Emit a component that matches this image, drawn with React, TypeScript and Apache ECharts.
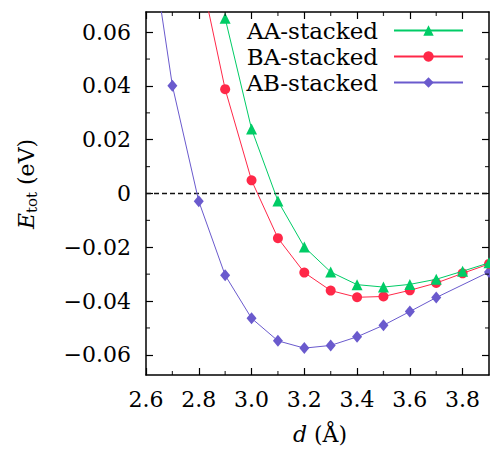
import React, { useEffect, useRef } from "react";
import * as echarts from "echarts";

// ---- data ----
const aaX = [2.9, 3.0, 3.1, 3.2, 3.3, 3.4, 3.5, 3.6, 3.7, 3.8, 3.9];
const aaY = [0.0652, 0.024, -0.0028, -0.0199, -0.0292, -0.0339, -0.0348, -0.0338, -0.0319, -0.0289, -0.0258];

const baX = [2.8, 2.9, 3.0, 3.1, 3.2, 3.3, 3.4, 3.5, 3.6, 3.7, 3.8, 3.9];
const baY = [0.085, 0.0388, 0.0049, -0.0166, -0.0294, -0.0361, -0.0386, -0.0383, -0.036, -0.0333, -0.0297, -0.0262];

const abX = [2.6, 2.7, 2.8, 2.9, 3.0, 3.1, 3.2, 3.3, 3.4, 3.5, 3.6, 3.7, 3.9];
const abY = [0.106, 0.0401, -0.0029, -0.0304, -0.0464, -0.0548, -0.0575, -0.0565, -0.0533, -0.049, -0.0439, -0.0387, -0.0292];

const seriesNames = ["AA-stacked", "BA-stacked", "AB-stacked"];
const xTickLabels = [2.6, 2.8, 3.0, 3.2, 3.4, 3.6, 3.8];
const xMinorTicks = [2.7, 2.9, 3.1, 3.3, 3.5, 3.7];
const yTickLabels = [-0.06, -0.04, -0.02, 0, 0.02, 0.04, 0.06];
const yMinorTicks = [-0.05, -0.03, -0.01, 0.01, 0.03, 0.05];

const X_MIN = 2.6;
const X_MAX = 3.9;
const Y_MIN = -0.0675;
const Y_MAX = 0.0675;

const FONT = '"DejaVu Serif"';
const FS = 22;
const COLORS = ["#00cc66", "#ff2848", "#6a5acd"];

const pairs = (xs: number[], ys: number[]) => xs.map((x, i) => [x, ys[i]]);

function makeAxis(kind: "x" | "y", position: string, labels: boolean) {
  const isX = kind === "x";
  const ticks = isX ? xTickLabels : yTickLabels;
  return {
    type: "value",
    position,
    min: isX ? X_MIN : Y_MIN,
    max: isX ? X_MAX : Y_MAX,
    scale: false,
    boundaryGap: [0, 0],
    axisLine: { show: true, onZero: false, lineStyle: { color: "#000", width: 1.5 } },
    axisTick: {
      show: true,
      inside: true,
      length: 7,
      customValues: ticks,
      lineStyle: { color: "#000", width: 1.2 },
    },
    axisLabel: labels
      ? {
          show: true,
          customValues: ticks,
          fontFamily: FONT,
          fontSize: FS,
          color: "#000",
          margin: isX ? 13 : 15,
          formatter: (v: number) =>
            isX
              ? v.toFixed(1)
              : Math.abs(v) < 1e-9
              ? "0"
              : (v < 0 ? "\u2212" : "") + Math.abs(v).toFixed(2),
        }
      : { show: false },
    splitLine: { show: false },
    minorTick: { show: false },
  };
}

export default function App() {
  const ref = useRef<HTMLDivElement>(null);

  useEffect(() => {
    if (!ref.current) return;
    const chart = echarts.init(ref.current, null, { renderer: "svg" });

    const xAxes = [
      {
        ...makeAxis("x", "bottom", true),
        name: "{i|d} (Å)",
        nameLocation: "middle",
        nameGap: 48,
        nameTextStyle: {
          fontFamily: FONT,
          fontSize: FS,
          color: "#000",
          padding: [0, 0, 0, 5],
          rich: {
            i: { fontFamily: FONT, fontSize: FS, fontStyle: "italic", color: "#000" },
          },
        },
      },
      makeAxis("x", "top", false),
    ];
    const yAxes = [
      {
        ...makeAxis("y", "left", true),
        name: "{e|E}{s|tot} (eV)",
        nameLocation: "middle",
        nameRotate: 90,
        nameGap: 107,
        nameTextStyle: {
          fontFamily: FONT,
          fontSize: FS,
          color: "#000",
          lineHeight: 26,
          padding: [0, 0, 0, 19],
          rich: {
            e: { fontFamily: FONT, fontSize: FS, fontStyle: "italic", color: "#000", lineHeight: 26 },
            s: { fontFamily: FONT, fontSize: 15, color: "#000", lineHeight: 16, verticalAlign: "bottom" },
          },
        },
      },
      makeAxis("y", "right", false),
    ];

    const symbols = ["triangle", "circle", "diamond"];
    const sizes: any[] = [11, 10, [10, 12]];
    const datas = [pairs(aaX, aaY), pairs(baX, baY), pairs(abX, abY)];

    const series: any[] = seriesNames.map((name, i) => ({
      name,
      type: "line",
      data: datas[i],
      xAxisIndex: 0,
      yAxisIndex: 0,
      symbol: symbols[i],
      symbolSize: sizes[i],
      showSymbol: true,
      clip: true,
      z: 3 + (2 - i),
      color: COLORS[i],
      itemStyle: { color: COLORS[i] },
      lineStyle: { color: COLORS[i], width: 1 },
      emphasis: { disabled: true },
    }));

    series[0].markLine = {
      silent: true,
      symbol: ["none", "none"],
      label: { show: false },
      emphasis: { disabled: true },
      lineStyle: { color: "#111", width: 1.3, type: [5, 3] },
      data: [{ yAxis: 0 }],
      z: 1,
    };

    // minor ticks (inside, on all four sides), placed through the axes' own scales
    const minorTick = (data: number[][], size: number[], offset: number[]) => ({
      type: "scatter",
      data,
      xAxisIndex: 0,
      yAxisIndex: 0,
      symbol: "rect",
      symbolSize: size,
      symbolOffset: offset,
      clip: false,
      silent: true,
      z: 10,
      itemStyle: { color: "#000" },
      emphasis: { disabled: true },
    });
    series.push(minorTick(xMinorTicks.map((x) => [x, Y_MIN]), [1.2, 4], [0, -2]));
    series.push(minorTick(xMinorTicks.map((x) => [x, Y_MAX]), [1.2, 4], [0, 2]));
    series.push(minorTick(yMinorTicks.map((y) => [X_MIN, y]), [4, 1.2], [2, 0]));
    series.push(minorTick(yMinorTicks.map((y) => [X_MAX, y]), [4, 1.2], [-2, 0]));

    chart.setOption({
      animation: false,
      backgroundColor: "#fff",
      textStyle: { fontFamily: FONT },
      grid: {
        left: 146,
        right: 1,
        top: 12,
        bottom: 76,
        containLabel: false,
        outerBoundsMode: "none",
      },
      legend: {
        data: seriesNames,
        orient: "vertical",
        align: "right",
        right: 26,
        top: 18,
        padding: 0,
        itemGap: 1,
        itemWidth: 69,
        itemHeight: 13,
        selectedMode: false,
        textStyle: {
          fontFamily: FONT,
          fontSize: 23,
          lineHeight: 25,
          color: "#000",
          padding: [0, 11, 0, 0],
        },
      },
      xAxis: xAxes,
      yAxis: yAxes,
      series,
    });

    return () => chart.dispose();
  }, []);

  return (
    <div
      ref={ref}
      style={{ position: "absolute", left: 0, top: 0, width: 490, height: 451, background: "#fff" }}
    />
  );
}
